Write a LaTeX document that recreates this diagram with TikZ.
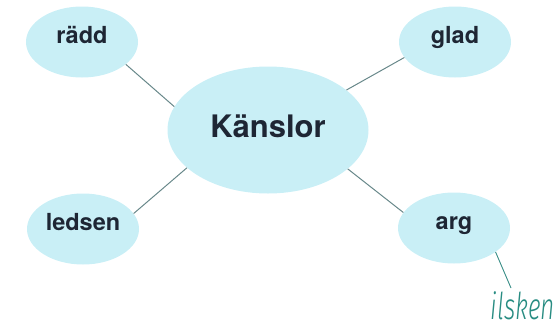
\documentclass[tikz,border=0pt]{standalone}
\usepackage{fontspec}
\setmainfont{TeX Gyre Heros}
\newfontfamily\handfont{Fira Sans Light Italic}
\usetikzlibrary{shapes.geometric}
\definecolor{bubble}{RGB}{201,239,246}
\definecolor{ink}{RGB}{30,38,52}
\definecolor{edge}{RGB}{104,136,138}
\definecolor{pen}{RGB}{40,140,130}
\tikzset{feel/.style={ellipse,fill=bubble,draw=none,inner sep=0pt,
    minimum width=112pt,minimum height=71pt,text=ink,
    font=\fontsize{23.5}{24}\selectfont\bfseries,
    text height=17pt,text depth=15pt},
  hub/.style={feel,minimum width=201pt,minimum height=127pt,
    font=\fontsize{31}{32}\selectfont\bfseries,
    text height=22.5pt,text depth=8.5pt}}

\begin{document}
\begin{tikzpicture}[x=1pt,y=-1pt]
      \useasboundingbox (0,0) rectangle (560,325);
      \node[hub] (k) at (268,130) {Känslor};
      \node[feel] (r) at (82,42) {rädd};
      \node[feel] (g) at (455,42) {glad};
      \node[feel] (l) at (83,229) {ledsen};
      \node[feel] (a) at (454,228) {arg};
      \node[anchor=base east,text=pen,inner sep=0pt,xscale=0.66,
        font=\fontsize{37}{40}\handfont] (i) at (555,319) {ilsken};
      \coordinate (t) at (511,288);

\foreach \a/\b in {r.-27/k.166,g.-163/k.27,l.17/k.-155,a.163/k.-26}
  \draw[edge,line width=1pt] (\a) -- (\b);
\draw[pen!80!edge,line width=0.9pt] (a.-30) -- (t);
    \end{tikzpicture}
\end{document}
